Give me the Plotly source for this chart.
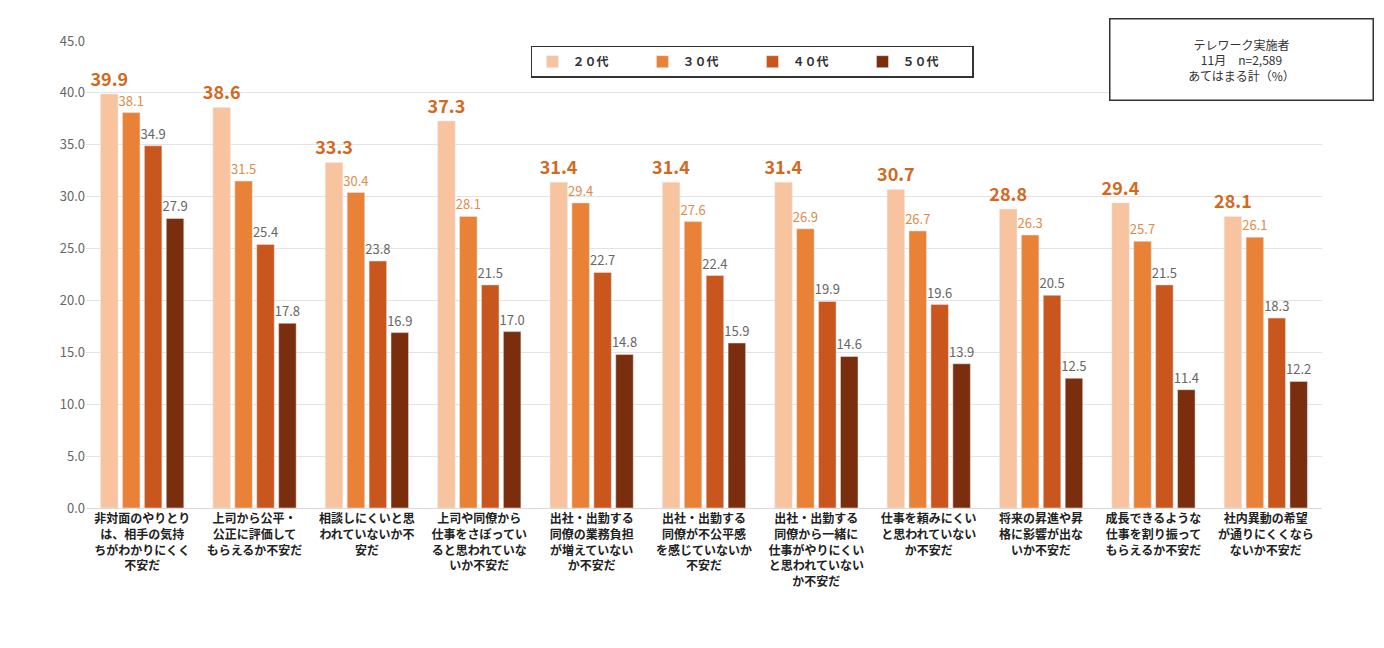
import plotly.graph_objects as go

categories = [
    "非対面のやりとり<br>は、相手の気持<br>ちがわかりにくく<br>不安だ",
    "上司から公平・<br>公正に評価して<br>もらえるか不安だ",
    "相談しにくいと思<br>われていないか不<br>安だ",
    "上司や同僚から<br>仕事をさぼってい<br>ると思われていな<br>いか不安だ",
    "出社・出勤する<br>同僚の業務負担<br>が増えていない<br>か不安だ",
    "出社・出勤する<br>同僚が不公平感<br>を感じていないか<br>不安だ",
    "出社・出勤する<br>同僚から一緒に<br>仕事がやりにくい<br>と思われていない<br>か不安だ",
    "仕事を頼みにくい<br>と思われていない<br>か不安だ",
    "将来の昇進や昇<br>格に影響が出な<br>いか不安だ",
    "成長できるような<br>仕事を割り振って<br>もらえるか不安だ",
    "社内異動の希望<br>が通りにくくなら<br>ないか不安だ",
]
series_names = ["２０代", "３０代", "４０代", "５０代"]
v20 = [39.9, 38.6, 33.3, 37.3, 31.4, 31.4, 31.4, 30.7, 28.8, 29.4, 28.1]
v30 = [38.1, 31.5, 30.4, 28.1, 29.4, 27.6, 26.9, 26.7, 26.3, 25.7, 26.1]
v40 = [34.9, 25.4, 23.8, 21.5, 22.7, 22.4, 19.9, 19.6, 20.5, 21.5, 18.3]
v50 = [27.9, 17.8, 16.9, 17.0, 14.8, 15.9, 14.6, 13.9, 12.5, 11.4, 12.2]
y_ticks = [0, 5, 10, 15, 20, 25, 30, 35, 40, 45]

colors = ["#F8C4A0", "#E98237", "#C9561C", "#7B2E0E"]
text_fonts = [dict(size=18, color="#D2691E"),
              dict(size=13, color="#E08A4A"),
              dict(size=13, color="#666666"),
              dict(size=13, color="#666666")]

fig = go.Figure()
for name, vals, c, tf in zip(series_names, [v20, v30, v40, v50], colors, text_fonts):
    fig.add_trace(go.Bar(
        x=categories, y=vals, name=name, marker_color=c,
        text=[f"{v:.1f}" for v in vals], textposition="outside",
        textfont=tf, cliponaxis=False, constraintext="none",
        texttemplate="<b>%{text}</b>" if name == "２０代" else "%{text}",
    ))

fig.update_layout(
    width=1384, height=648,
    margin=dict(l=78, r=70, t=33, b=148),
    plot_bgcolor="white", paper_bgcolor="white",
    bargap=0.22, bargroupgap=0.2,
    font=dict(family="Noto Sans CJK JP", color="#333333"),
    xaxis=dict(tickfont=dict(size=12, color="#222222", weight="bold"), tickangle=0,
               showline=True, linecolor="#D9D9D9"),
    yaxis=dict(range=[0, 45], tickvals=y_ticks, tickformat=".1f",
               gridcolor="#E3E3E3", tickfont=dict(size=13, color="#666666"),
               zeroline=False),
    legend=dict(orientation="h", x=0.36, y=0.99, xanchor="left", yanchor="top",
                bordercolor="#333333", borderwidth=1.5, bgcolor="white",
                font=dict(size=12, weight="bold"), entrywidth=65),
    showlegend=True,
)
fig.add_annotation(
    xref="paper", yref="paper", x=0.935, y=1.05, xanchor="center", yanchor="top",
    text="テレワーク実施者<br>11月　n=2,589<br>あてはまる計（%）",
    showarrow=False, align="center", font=dict(size=12, color="#333333"),
    bordercolor="#333333", borderwidth=1.5, borderpad=16, bgcolor="white",
    width=230,
)
fig.write_html("out.html")
